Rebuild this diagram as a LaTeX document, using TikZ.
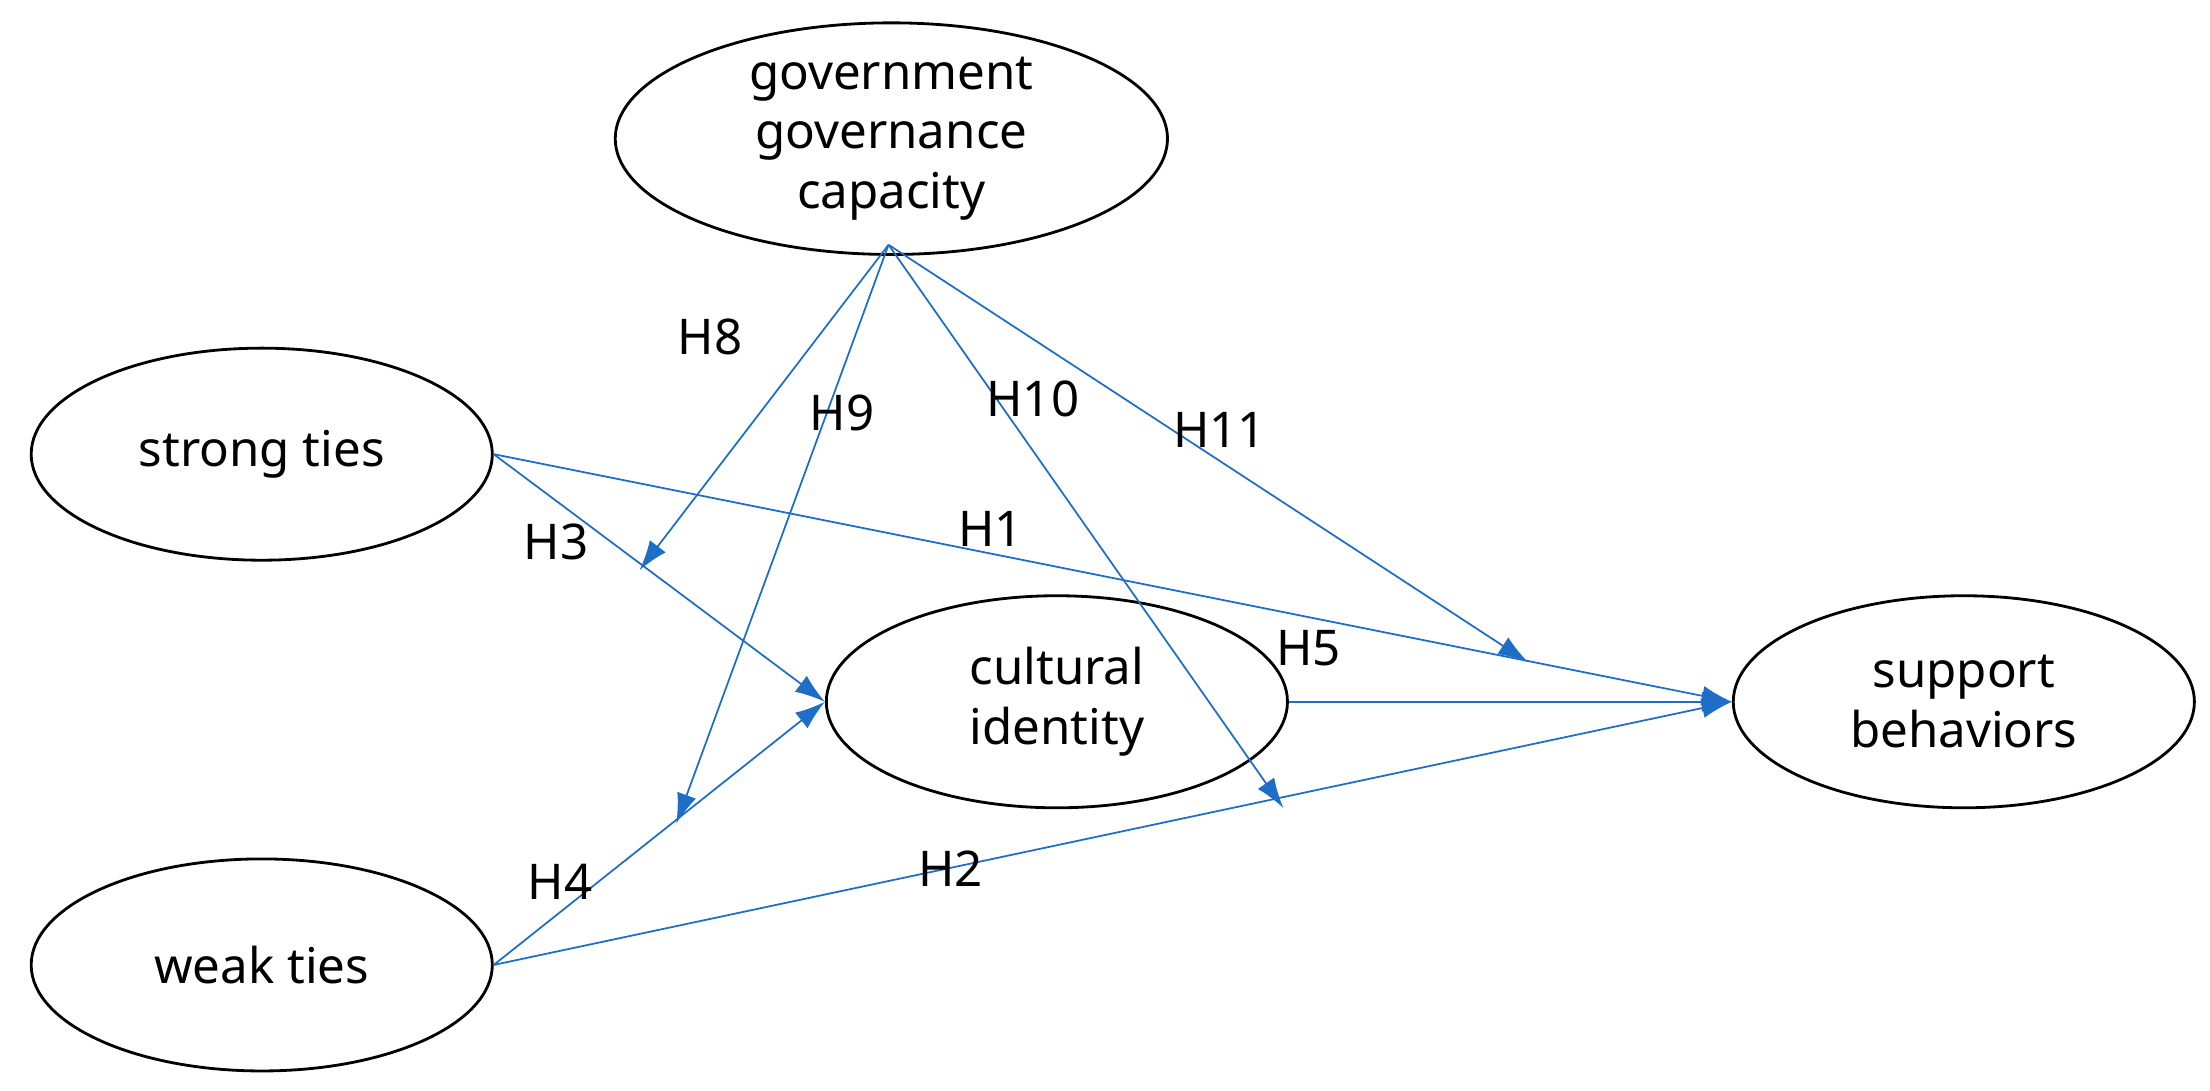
\documentclass[tikz,border=0pt]{standalone}
\usepackage{fontspec}
\setmainfont{Noto Sans}
\usetikzlibrary{shapes.geometric,arrows.meta}

\begin{document}
\begin{tikzpicture}[
    x=0.01415cm, y=-0.01415cm,
    every node/.style={font=\fontsize{14}{17}\selectfont},
    var/.style={ellipse, draw, thick, minimum width=4.61cm, minimum height=2.12cm, align=center, inner sep=0pt},
    path/.style={-{Latex[length=3mm,width=2mm]}, draw={rgb,255:red,30;green,110;blue,200}, line width=0.5pt}
]
\useasboundingbox (0,0) rectangle (1562,771);

% Variables
\node (gov)     [var, minimum width=5.52cm, minimum height=2.16cm] at (630,98) {government\\governance\\capacity};
\node (strong)  [var] at (185,321) {strong ties};
\node (weak)    [var] at (185,682) {weak ties};
\node (culture) [var] at (747,496) {cultural\\identity};
\node (support) [var] at (1388,496) {support\\behaviors};

% Moderation targets
\coordinate (gs) at (628,173);
\coordinate (m8) at (452,403);
\coordinate (m9) at (478,582);
\coordinate (m10) at (907,571);
\coordinate (m11) at (1080,468);

% Paths
\draw[path] (strong.east) -- (support.west);
\draw[path] (strong.east) -- (culture.west);
\draw[path] (weak.east) -- (culture.west);
\draw[path] (weak.east) -- (support.west);
\draw[path] (culture.east) -- (support.west);
\draw[path] (gs) -- (m8);
\draw[path] (gs) -- (m9);
\draw[path] (gs) -- (m10);
\draw[path] (gs) -- (m11);

% Labels
\node at (502,238) {H8};
\node at (595,292) {H9};
\node at (730,282) {H10};
\node at (862,304) {H11};
\node at (700,374) {H1};
\node at (393,383) {H3};
\node at (925,458) {H5};
\node at (396,623) {H4};
\node at (672,614) {H2};

\end{tikzpicture}
\end{document}
